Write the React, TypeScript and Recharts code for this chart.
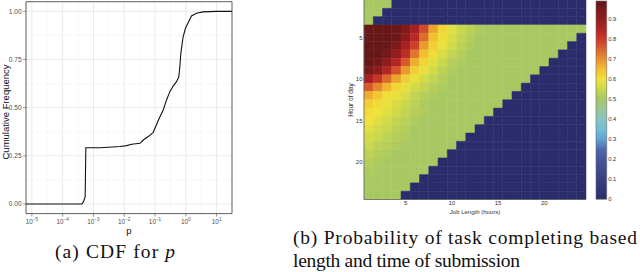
import React from 'react';
import {
  LineChart, Line, XAxis, YAxis, CartesianGrid, ReferenceArea,
  ScatterChart, Scatter,
} from 'recharts';

// ---------- (a) CDF for p ----------
const logP = [-5.19, -3.376, -3.322, -3.269, -3.247, -2.783, -2.136, -1.92, -1.758, -1.489, -1.381, -1.219, -1.057, -0.971, -0.863, -0.733, -0.626, -0.518, -0.41, -0.302, -0.227, -0.194, -0.162, -0.087, -0.011, 0.075, 0.184, 0.345, 0.561, 0.992, 1.5];
const cumFreq = [0, 0, 0.012, 0.038, 0.292, 0.292, 0.298, 0.303, 0.31, 0.315, 0.332, 0.35, 0.372, 0.405, 0.445, 0.488, 0.54, 0.583, 0.612, 0.635, 0.66, 0.713, 0.782, 0.868, 0.912, 0.941, 0.976, 0.99, 0.997, 1, 1];
const pTicks = [-5, -4, -3, -2, -1, 0, 1];
const pMinor = [-4.5, -3.5, -2.5, -1.5, -0.5, 0.5];
const freqTicks = [0, 0.25, 0.5, 0.75, 1];
const freqMinor = [0.125, 0.375, 0.625, 0.875];

// ---------- (b) heatmap ----------
const hourOfDay = [1, 2, 3, 4, 5, 6, 7, 8, 9, 10, 11, 12, 13, 14, 15, 16, 17, 18, 19, 20, 21, 22, 23, 24];
const jobLength = [1, 2, 3, 4, 5, 6, 7, 8, 9, 10, 11, 12, 13, 14, 15, 16, 17, 18, 19, 20, 21, 22, 23, 24];
const completionProb: number[][] = [
  [0.5, 0.5, 0.5, 0, 0, 0, 0, 0, 0, 0, 0, 0, 0, 0, 0, 0, 0, 0, 0, 0, 0, 0, 0, 0],
  [0.5, 0.5, 0, 0, 0, 0, 0, 0, 0, 0, 0, 0, 0, 0, 0, 0, 0, 0, 0, 0, 0, 0, 0, 0],
  [0.5, 0, 0, 0, 0, 0, 0, 0, 0, 0, 0, 0, 0, 0, 0, 0, 0, 0, 0, 0, 0, 0, 0, 0],
  [0.98, 0.98, 0.98, 0.97, 0.93, 0.87, 0.78, 0.68, 0.62, 0.58, 0.55, 0.53, 0.51, 0.5, 0.5, 0.5, 0.5, 0.5, 0.5, 0.5, 0.5, 0.5, 0.5, 0.5],
  [0.98, 0.98, 0.98, 0.97, 0.91, 0.84, 0.74, 0.65, 0.61, 0.57, 0.54, 0.52, 0.5, 0.5, 0.5, 0.5, 0.5, 0.5, 0.5, 0.5, 0.5, 0.5, 0.5, 0],
  [0.98, 0.98, 0.98, 0.94, 0.87, 0.79, 0.69, 0.63, 0.59, 0.56, 0.53, 0.51, 0.5, 0.5, 0.5, 0.5, 0.5, 0.5, 0.5, 0.5, 0.5, 0.5, 0, 0],
  [0.98, 0.98, 0.96, 0.9, 0.83, 0.73, 0.65, 0.61, 0.57, 0.54, 0.52, 0.5, 0.5, 0.5, 0.5, 0.5, 0.5, 0.5, 0.5, 0.5, 0.5, 0, 0, 0],
  [0.98, 0.96, 0.91, 0.85, 0.76, 0.67, 0.62, 0.58, 0.55, 0.52, 0.51, 0.5, 0.5, 0.5, 0.5, 0.5, 0.5, 0.5, 0.5, 0.5, 0, 0, 0, 0],
  [0.95, 0.91, 0.85, 0.77, 0.69, 0.63, 0.59, 0.56, 0.53, 0.51, 0.5, 0.5, 0.5, 0.5, 0.5, 0.5, 0.5, 0.5, 0.5, 0, 0, 0, 0, 0],
  [0.87, 0.81, 0.74, 0.68, 0.63, 0.59, 0.56, 0.54, 0.52, 0.5, 0.5, 0.5, 0.5, 0.5, 0.5, 0.5, 0.5, 0.5, 0, 0, 0, 0, 0, 0],
  [0.76, 0.71, 0.66, 0.62, 0.59, 0.56, 0.54, 0.52, 0.51, 0.5, 0.5, 0.5, 0.5, 0.5, 0.5, 0.5, 0.5, 0, 0, 0, 0, 0, 0, 0],
  [0.67, 0.64, 0.61, 0.59, 0.57, 0.54, 0.52, 0.51, 0.5, 0.5, 0.5, 0.5, 0.5, 0.5, 0.5, 0.5, 0, 0, 0, 0, 0, 0, 0, 0],
  [0.63, 0.61, 0.59, 0.57, 0.55, 0.53, 0.51, 0.5, 0.5, 0.5, 0.5, 0.5, 0.5, 0.5, 0.5, 0, 0, 0, 0, 0, 0, 0, 0, 0],
  [0.61, 0.6, 0.58, 0.56, 0.54, 0.52, 0.51, 0.5, 0.5, 0.5, 0.5, 0.5, 0.5, 0.5, 0, 0, 0, 0, 0, 0, 0, 0, 0, 0],
  [0.6, 0.58, 0.56, 0.54, 0.53, 0.51, 0.5, 0.5, 0.5, 0.5, 0.5, 0.5, 0.5, 0, 0, 0, 0, 0, 0, 0, 0, 0, 0, 0],
  [0.58, 0.56, 0.55, 0.53, 0.52, 0.5, 0.5, 0.5, 0.5, 0.5, 0.5, 0.5, 0, 0, 0, 0, 0, 0, 0, 0, 0, 0, 0, 0],
  [0.56, 0.55, 0.53, 0.52, 0.51, 0.5, 0.5, 0.5, 0.5, 0.5, 0.5, 0, 0, 0, 0, 0, 0, 0, 0, 0, 0, 0, 0, 0],
  [0.55, 0.53, 0.52, 0.51, 0.5, 0.5, 0.5, 0.5, 0.5, 0.5, 0, 0, 0, 0, 0, 0, 0, 0, 0, 0, 0, 0, 0, 0],
  [0.53, 0.52, 0.51, 0.5, 0.5, 0.5, 0.5, 0.5, 0.5, 0, 0, 0, 0, 0, 0, 0, 0, 0, 0, 0, 0, 0, 0, 0],
  [0.52, 0.51, 0.5, 0.5, 0.5, 0.5, 0.5, 0.5, 0, 0, 0, 0, 0, 0, 0, 0, 0, 0, 0, 0, 0, 0, 0, 0],
  [0.51, 0.5, 0.5, 0.5, 0.5, 0.5, 0.5, 0, 0, 0, 0, 0, 0, 0, 0, 0, 0, 0, 0, 0, 0, 0, 0, 0],
  [0.5, 0.5, 0.5, 0.5, 0.5, 0.5, 0, 0, 0, 0, 0, 0, 0, 0, 0, 0, 0, 0, 0, 0, 0, 0, 0, 0],
  [0.5, 0.5, 0.5, 0.5, 0.5, 0, 0, 0, 0, 0, 0, 0, 0, 0, 0, 0, 0, 0, 0, 0, 0, 0, 0, 0],
  [0.5, 0.5, 0.5, 0.5, 0, 0, 0, 0, 0, 0, 0, 0, 0, 0, 0, 0, 0, 0, 0, 0, 0, 0, 0, 0],
];
const hourTicks = [5, 10, 15, 20];
const lengthTicks = [5, 10, 15, 20];
const colorbarTicks = [0, 0.1, 0.2, 0.3, 0.4, 0.5, 0.6, 0.7, 0.8, 0.9];
const colorbarMax = 0.99;

const colorStops: Array<[number, string]> = [
  [0.0, '#2b2c6c'],
  [0.1, '#373f85'],
  [0.2, '#46559b'],
  [0.25, '#4f6aae'],
  [0.3, '#5fa3d6'],
  [0.35, '#74bdd6'],
  [0.4, '#86c6bf'],
  [0.45, '#97c796'],
  [0.5, '#a8c862'],
  [0.55, '#cad84c'],
  [0.6, '#f1e23a'],
  [0.65, '#f1c031'],
  [0.7, '#e8922d'],
  [0.75, '#da622c'],
  [0.8, '#cc382a'],
  [0.85, '#b22525'],
  [0.9, '#951d1d'],
  [0.95, '#771a1a'],
  [1.0, '#5e1515'],
];

function hexToRgb(h: string): number[] {
  return [1, 3, 5].map((i) => parseInt(h.slice(i, i + 2), 16));
}
function colorFor(v: number): string {
  for (let i = 0; i < colorStops.length - 1; i++) {
    const [a, ca] = colorStops[i];
    const [b, cb] = colorStops[i + 1];
    if (v <= b) {
      const t = Math.max(0, Math.min(1, (v - a) / (b - a)));
      const A = hexToRgb(ca);
      const B = hexToRgb(cb);
      const c = A.map((x, k) => Math.round(x + (B[k] - x) * t));
      return `rgb(${c[0]},${c[1]},${c[2]})`;
    }
  }
  return colorStops[colorStops.length - 1][1];
}

const cdfData = logP.map((v, i) => ({ logP: v, cum: cumFreq[i] }));
const heatCells: { L: number; h: number; v: number }[] = [];
hourOfDay.forEach((h, r) => {
  jobLength.forEach((L, c) => {
    heatCells.push({ L, h, v: completionProb[r][c] });
  });
});
const colorbarData = [{ x: 0.5, y: 0.5 }];
// gradient stops ordered top (high value) -> bottom (low value)
const gradientStops = colorStops
  .filter((s) => s[0] <= colorbarMax)
  .slice()
  .reverse()
  .map((s) => ({ offset: (colorbarMax - s[0]) / colorbarMax, color: s[1] }));
const gradientTop = { offset: 0, color: colorFor(colorbarMax) };

const SANS = "'Liberation Sans', Arial, Helvetica, sans-serif";
const SERIF = "'Liberation Serif', 'Times New Roman', serif";

const PowTick = (props: any) => {
  const { x, y, payload } = props;
  const exp = payload.value < 0 ? `\u2212${Math.abs(payload.value)}` : `${payload.value}`;
  return (
    <text x={x} y={y} textAnchor="middle" fill="#4d4d4d" fontFamily={SANS}>
      <tspan fontSize={6.4} dy={6}>10</tspan>
      <tspan fontSize={4.6} dy={-2.8}>{exp}</tspan>
    </text>
  );
};

const FreqTick = (props: any) => {
  const { x, y, payload } = props;
  return (
    <text x={x} y={y} dy="0.35em" textAnchor="end" fill="#4d4d4d" fontFamily={SANS} fontSize={6.5}>
      {payload.value.toFixed(2)}
    </text>
  );
};

const HeatXTick = (props: any) => {
  const { x, y, payload } = props;
  return (
    <text x={x} y={y} dy="0.75em" textAnchor="middle" fill="#333" fontFamily={SANS} fontSize={6}>
      {payload.value}
    </text>
  );
};
const HeatYTick = (props: any) => {
  const { x, y, payload } = props;
  return (
    <text x={x} y={y} dy="0.35em" textAnchor="end" fill="#333" fontFamily={SANS} fontSize={6}>
      {payload.value}
    </text>
  );
};
const BarTick = (props: any) => {
  const { x, y, payload } = props;
  return (
    <text x={x} y={y} dy="0.35em" textAnchor="start" fill="#333" fontFamily={SANS} fontSize={5.8}>
      {payload.value === 0 ? '0' : payload.value.toFixed(1)}
    </text>
  );
};

const EmptyShape = () => <g />;

export default function App() {
  return (
    <div style={{ position: 'absolute', left: 0, top: 0, width: 640, height: 272, background: '#fff', overflow: 'hidden' }}>
      {/* shared gradient definition for the colorbar */}
      <svg width={0} height={0} style={{ position: 'absolute' }}>
        <defs>
          <linearGradient id="cbarGrad" x1="0" y1="0" x2="0" y2="1">
            <stop offset={gradientTop.offset} stopColor={gradientTop.color} />
            {gradientStops.map((s) => (
              <stop key={s.offset} offset={s.offset} stopColor={s.color} />
            ))}
          </linearGradient>
        </defs>
      </svg>

      {/* (a) CDF */}
      <div style={{ position: 'absolute', left: 0, top: 0 }}>
        <LineChart width={240} height={240} data={cdfData} margin={{ top: 1.7, right: 8, bottom: 0, left: 0 }}>
          <CartesianGrid verticalValues={pMinor} horizontalValues={freqMinor} stroke="#f3f3f3" strokeWidth={0.6} />
          <CartesianGrid stroke="#e8e8e8" strokeWidth={0.9} />
          <XAxis
            type="number"
            dataKey="logP"
            domain={[-5.19, 1.5]}
            ticks={pTicks}
            allowDataOverflow
            height={26.4}
            tickSize={3}
            tickMargin={1}
            tickLine={{ stroke: '#4d4d4d', strokeWidth: 0.6 }}
            axisLine={false}
            tick={PowTick}
            interval={0}
          />
          <YAxis
            type="number"
            domain={[-0.05, 1.05]}
            ticks={freqTicks}
            allowDataOverflow
            width={26}
            tickSize={3}
            tickMargin={1.5}
            tickLine={{ stroke: '#4d4d4d', strokeWidth: 0.6 }}
            axisLine={false}
            tick={FreqTick}
            interval={0}
          />
          <Line type="linear" dataKey="cum" stroke="#111" strokeWidth={1.1} dot={false} isAnimationActive={false} />
          <ReferenceArea x1={-5.19} x2={1.5} y1={-0.05} y2={1.05} fill="none" fillOpacity={0} stroke="#555" strokeWidth={0.9} ifOverflow="visible" />
        </LineChart>
      </div>

      {/* (b) heatmap */}
      <div style={{ position: 'absolute', left: 330, top: 0 }}>
        <ScatterChart width={260} height={220} margin={{ top: 0, right: 4, bottom: 0, left: 0 }}>
          <XAxis
            type="number"
            dataKey="L"
            domain={[0.5, 24.5]}
            ticks={lengthTicks}
            allowDataOverflow
            height={20.5}
            tickSize={0}
            tickMargin={1}
            tickLine={false}
            axisLine={{ stroke: '#666', strokeWidth: 0.8 }}
            tick={HeatXTick}
            interval={0}
          />
          <YAxis
            type="number"
            dataKey="h"
            domain={[0.5, 24.5]}
            reversed
            ticks={hourTicks}
            allowDataOverflow
            width={34}
            tickSize={0}
            tickMargin={1.5}
            tickLine={false}
            axisLine={{ stroke: '#666', strokeWidth: 0.8 }}
            tick={HeatYTick}
            interval={0}
          />
          {heatCells.map((c) => {
            const col = colorFor(c.v);
            return (
              <ReferenceArea
                key={`${c.h}-${c.L}`}
                x1={c.L - 0.5}
                x2={c.L + 0.5}
                y1={c.h - 0.5}
                y2={c.h + 0.5}
                fill={col}
                fillOpacity={1}
                stroke={col}
                strokeWidth={0.5}
              />
            );
          })}
          <Scatter data={heatCells} dataKey="h" shape={EmptyShape} isAnimationActive={false} />
        </ScatterChart>
      </div>

      {/* colorbar */}
      <div style={{ position: 'absolute', left: 590, top: 0 }}>
        <ScatterChart width={50} height={205} margin={{ top: 1, right: 0, bottom: 5.7, left: 6 }}>
          <XAxis type="number" dataKey="x" domain={[0, 1]} hide />
          <YAxis
            type="number"
            dataKey="y"
            orientation="right"
            domain={[0, colorbarMax]}
            ticks={colorbarTicks}
            allowDataOverflow
            width={33.3}
            tickSize={0}
            tickMargin={1.5}
            tickLine={false}
            axisLine={false}
            tick={BarTick}
            interval={0}
          />
          <ReferenceArea x1={0} x2={1} y1={0} y2={colorbarMax} fill="url(#cbarGrad)" fillOpacity={1} stroke="#666" strokeWidth={0.6} />
          <Scatter data={colorbarData} shape={EmptyShape} isAnimationActive={false} />
        </ScatterChart>
      </div>

      {/* titles and captions */}
      <svg width={640} height={272} style={{ position: 'absolute', left: 0, top: 0, pointerEvents: 'none' }}>
        <text x={5} y={112} transform="rotate(-90 5 112)" textAnchor="middle" dominantBaseline="central" fontFamily={SANS} fontSize={9.5} fill="#111">
          Cumulative Frequency
        </text>
        <text x={129} y={233.5} textAnchor="middle" fontFamily={SANS} fontSize={9.5} fill="#111">p</text>
        <text x={350} y={100} transform="rotate(-90 350 100)" textAnchor="middle" dominantBaseline="central" fontFamily={SANS} fontSize={6.5} fill="#333">
          Hour of day
        </text>
        <text x={475} y={214} textAnchor="middle" fontFamily={SANS} fontSize={6} fill="#333">Job Length (hours)</text>

        <text x={55} y={258} fontFamily={SERIF} fontSize={19.5} fill="#111" textLength={120} lengthAdjust="spacing">
          (a) CDF for <tspan fontStyle="italic">p</tspan>
        </text>
        <text x={293} y={243.5} fontFamily={SERIF} fontSize={19.5} fill="#111" textLength={344} lengthAdjust="spacing">
          (b) Probability of task completing based
        </text>
        <text x={293} y={267} fontFamily={SERIF} fontSize={19.5} fill="#111" textLength={227} lengthAdjust="spacing">
          length and time of submission
        </text>
      </svg>
    </div>
  );
}
